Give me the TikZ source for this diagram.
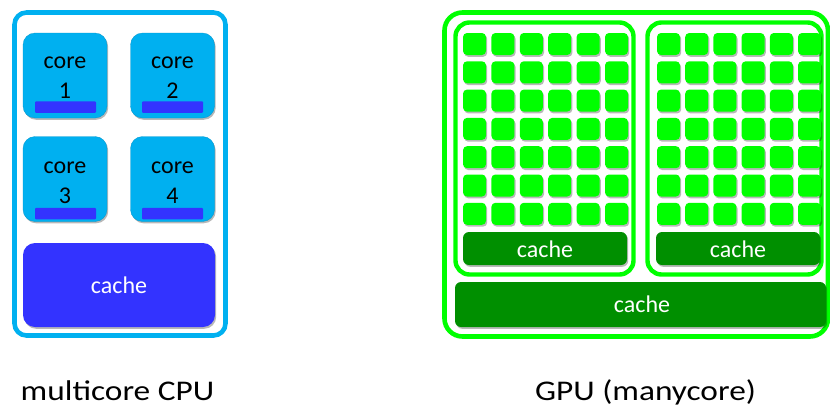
\documentclass[tikz,border=0pt]{standalone}
\usepackage{fontspec}
\setmainfont{Carlito}
\newfontfamily\lblfont[FakeStretch=1.17]{Carlito}
\usetikzlibrary{shadows}
\definecolor{cpublue}{HTML}{00B0F0}
\definecolor{barblue}{HTML}{3333FF}
\definecolor{gpugreen}{HTML}{00FF00}
\definecolor{darkgreen}{HTML}{008F00}
\tikzset{
  shd/.style={drop shadow={shadow xshift=1.2pt, shadow yshift=-1.8pt, fill=black, opacity=0.28}},
  cpuframe/.style={draw=cpublue, line width=4.6pt, rounded corners=12pt, minimum width=211pt, minimum height=323pt, inner sep=0pt},
  corebox/.style={fill=cpublue, draw=cpublue!85!black, line width=0.3pt, rounded corners=12pt, minimum width=84pt, minimum height=85pt, inner sep=0pt, shd},
  corebar/.style={fill=barblue, rounded corners=1pt, minimum width=61pt, minimum height=11.5pt, inner sep=0pt},
  cpucache/.style={fill=barblue, rounded corners=12pt, minimum width=192pt, minimum height=84pt, inner sep=0pt, shd},
  gpuframe/.style={draw=gpugreen, line width=4.6pt, rounded corners=18pt, inner sep=0pt},
  smbox/.style={draw=gpugreen, line width=4.4pt, rounded corners=14pt, minimum width=178pt, minimum height=252pt, inner sep=0pt},
  sq/.style={fill=gpugreen, rounded corners=4pt, minimum width=23pt, minimum height=22pt, inner sep=0pt, shd},
  gcache/.style={fill=darkgreen, rounded corners=6pt, inner sep=0pt, shd},
  txt/.style={font=\fontsize{24}{29}\selectfont, inner sep=0pt, anchor=base},
  wtxt/.style={txt, text=white},
  lbl/.style={font=\lblfont\fontsize{28.5}{34}\selectfont, inner sep=0pt, anchor=base}
}
\begin{document}
\begin{tikzpicture}[x=1pt,y=-1pt]
\useasboundingbox (0,0) rectangle (830,407);
% ---------------- CPU ----------------
\node[cpuframe] (cpu) at (120,174) {};
\node[corebox] (c1) at (65,75.5) {};
\node[corebox] (c2) at (172.5,75.5) {};
\node[corebox] (c3) at (65,179) {};
\node[corebox] (c4) at (172.5,179) {};
\node[corebar] (b1) at (65.5,107) {};
\node[corebar] (b2) at (172.5,107) {};
\node[corebar] (b3) at (65.5,213.5) {};
\node[corebar] (b4) at (172.5,213.5) {};
\node[txt] (t1a) at (65,68) {core};
\node[txt] (t1b) at (65,98) {1};
\node[txt] (t2a) at (172.5,68) {core};
\node[txt] (t2b) at (172.5,98) {2};
\node[txt] (t3a) at (65,173) {core};
\node[txt] (t3b) at (65,203) {3};
\node[txt] (t4a) at (172.5,173) {core};
\node[txt] (t4b) at (172.5,203) {4};
\node[cpucache] (cc) at (119,285) {};
\node[wtxt] (cct) at (119,293) {cache};
\node[lbl] (cpulbl) at (117.5,400) {multicore CPU};
% ---------------- GPU ----------------
\node[gpuframe, minimum width=383.5pt, minimum height=324pt] (gpu) at (636.25,174.5) {};
\node[smbox] (sm1) at (544.5,148.5) {};
\node[smbox, minimum width=174pt] (sm2) at (734.5,148.5) {};
\foreach \i in {0,...,5}{
  \foreach \j in {0,...,6}{
    \node[sq] (pa-\i-\j) at ({474.5+28.4*\i},{44+28.3*\j}) {};
    \node[sq] (pb-\i-\j) at ({668.5+28.2*\i},{44+28.3*\j}) {};
  }
}
\node[gcache, minimum width=164pt, minimum height=33pt] (gc1) at (545,248.5) {};
\node[gcache, minimum width=164pt, minimum height=33pt] (gc2) at (738,248.5) {};
\node[gcache, minimum width=371pt, minimum height=45pt] (gc) at (640.5,304.5) {};
\node[wtxt] (gc1t) at (545,257) {cache};
\node[wtxt] (gc2t) at (738,257) {cache};
\node[wtxt] (gct) at (642,312) {cache};
\node[lbl] (gpulbl) at (645.5,400) {GPU (manycore)};
\end{tikzpicture}
\end{document}
